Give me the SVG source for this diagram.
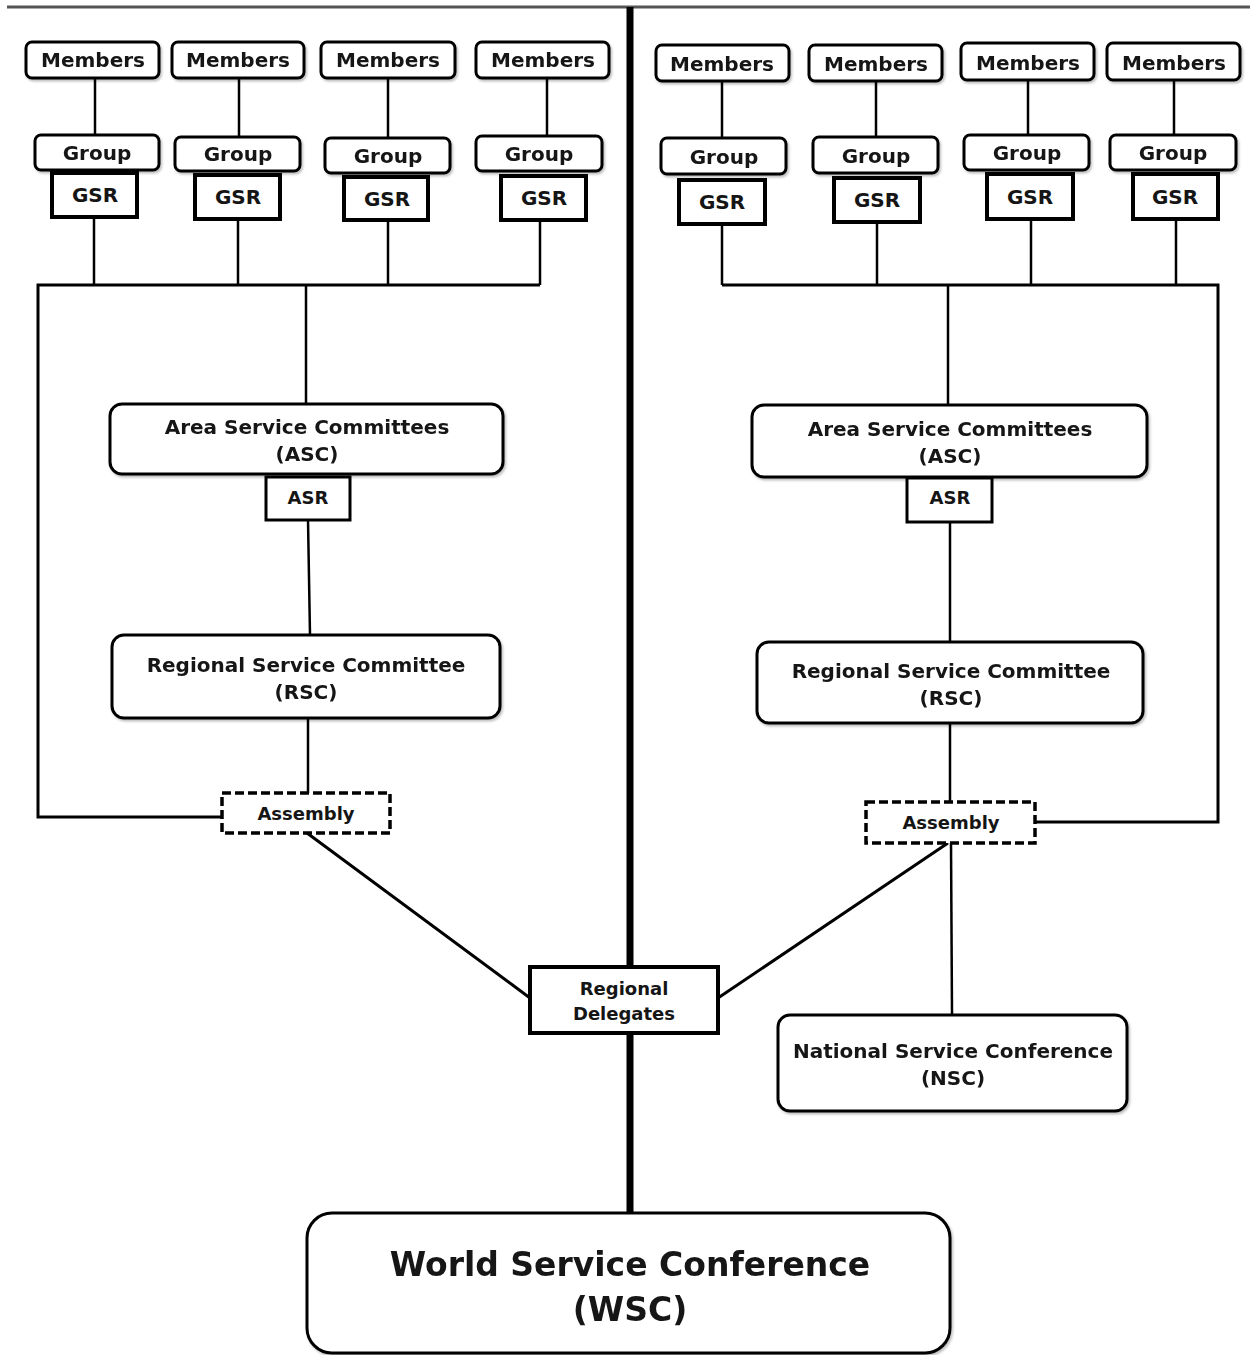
<svg xmlns="http://www.w3.org/2000/svg" width="1250" height="1355" viewBox="0 0 1250 1355">
<style>
.bx{fill:#fff;stroke:#000;stroke-width:3}
.gsr{fill:#fff;stroke:#000;stroke-width:4}
.dash{fill:#fff;stroke:#000;stroke-width:3.5;stroke-dasharray:9 4}
.t{font-family:"DejaVu Sans",Verdana,sans-serif;font-weight:bold;fill:#151515;text-anchor:middle}
.s20{font-size:20px}
.s18{font-size:18px}
.s33{font-size:33px}
.ln{stroke:#000;stroke-width:2.5;fill:none}
.ln3{stroke:#000;stroke-width:3;fill:none}
</style>
<defs>
<filter id="sh" x="-10%" y="-10%" width="120%" height="130%">
<feDropShadow dx="1.5" dy="2" stdDeviation="1.2" flood-color="#000" flood-opacity="0.25"/>
</filter>
</defs>
<rect width="1250" height="1355" fill="#fff"/>
<line x1="7" y1="7" x2="1250" y2="7" stroke="#555" stroke-width="3"/>
<g id="connectors">
<line class="ln" x1="95" y1="78" x2="95" y2="135"/>
<line class="ln" x1="239" y1="78" x2="239" y2="137"/>
<line class="ln" x1="388" y1="78" x2="388" y2="138"/>
<line class="ln" x1="547" y1="78" x2="547" y2="136"/>
<line class="ln" x1="94" y1="217" x2="94" y2="285"/>
<line class="ln" x1="238" y1="219" x2="238" y2="285"/>
<line class="ln" x1="388" y1="220" x2="388" y2="285"/>
<line class="ln" x1="540" y1="220" x2="540" y2="285"/>
<path class="ln3" d="M222,817 L38,817 L38,285 L540,285"/>
<line class="ln" x1="306" y1="285" x2="306" y2="404"/>
<line class="ln" x1="308" y1="520" x2="310" y2="635"/>
<line class="ln" x1="308" y1="718" x2="308" y2="793"/>
<line class="ln3" x1="307" y1="833" x2="530" y2="998"/>
<line class="ln" x1="722" y1="81" x2="722" y2="138"/>
<line class="ln" x1="876" y1="81" x2="876" y2="137"/>
<line class="ln" x1="1028" y1="80" x2="1028" y2="135"/>
<line class="ln" x1="1174" y1="80" x2="1174" y2="135"/>
<line class="ln" x1="722" y1="224" x2="722" y2="285"/>
<line class="ln" x1="877" y1="222" x2="877" y2="285"/>
<line class="ln" x1="1031" y1="219" x2="1031" y2="285"/>
<line class="ln" x1="1176" y1="219" x2="1176" y2="285"/>
<path class="ln3" d="M722,285 L1218,285 L1218,822 L1035,822" stroke-width="3.5"/>
<line class="ln" x1="948" y1="285" x2="948" y2="405"/>
<line class="ln" x1="950" y1="522" x2="950" y2="642"/>
<line class="ln" x1="950" y1="723" x2="950" y2="802"/>
<line class="ln" x1="951" y1="843" x2="952" y2="1015"/>
<line class="ln3" x1="948" y1="843" x2="718" y2="998"/>
<line x1="630" y1="7" x2="630" y2="1215" stroke="#000" stroke-width="7"/>
</g>
<g id="members1" filter="url(#sh)"><rect class="bx" x="26" y="42" width="133" height="36" rx="6"/><text class="t s20" x="93" y="67">Members</text></g>
<g id="members2" filter="url(#sh)"><rect class="bx" x="172" y="42" width="132" height="36" rx="6"/><text class="t s20" x="238" y="67">Members</text></g>
<g id="members3" filter="url(#sh)"><rect class="bx" x="321" y="42" width="134" height="36" rx="6"/><text class="t s20" x="388" y="67">Members</text></g>
<g id="members4" filter="url(#sh)"><rect class="bx" x="476" y="42" width="133" height="36" rx="6"/><text class="t s20" x="543" y="67">Members</text></g>
<g id="group1" filter="url(#sh)"><rect class="bx" x="35" y="135" width="124" height="35" rx="6"/><text class="t s20" x="97" y="160">Group</text></g>
<g id="group2" filter="url(#sh)"><rect class="bx" x="175" y="137" width="125" height="34" rx="6"/><text class="t s20" x="238" y="161">Group</text></g>
<g id="group3" filter="url(#sh)"><rect class="bx" x="325" y="138" width="125" height="35" rx="6"/><text class="t s20" x="388" y="163">Group</text></g>
<g id="group4" filter="url(#sh)"><rect class="bx" x="476" y="136" width="126" height="35" rx="6"/><text class="t s20" x="539" y="161">Group</text></g>
<g id="gsr1"><rect class="gsr" x="52" y="173" width="85" height="44"/><text class="t s20" x="95" y="202">GSR</text></g>
<g id="gsr2"><rect class="gsr" x="195" y="175" width="85" height="44"/><text class="t s20" x="238" y="204">GSR</text></g>
<g id="gsr3"><rect class="gsr" x="344" y="177" width="84" height="43"/><text class="t s20" x="387" y="206">GSR</text></g>
<g id="gsr4"><rect class="gsr" x="501" y="176" width="85" height="44"/><text class="t s20" x="544" y="205">GSR</text></g>
<g id="members5" filter="url(#sh)"><rect class="bx" x="656" y="45" width="133" height="36" rx="6"/><text class="t s20" x="722" y="71">Members</text></g>
<g id="members6" filter="url(#sh)"><rect class="bx" x="809" y="45" width="133" height="36" rx="6"/><text class="t s20" x="876" y="71">Members</text></g>
<g id="members7" filter="url(#sh)"><rect class="bx" x="961" y="43" width="133" height="37" rx="6"/><text class="t s20" x="1028" y="70">Members</text></g>
<g id="members8" filter="url(#sh)"><rect class="bx" x="1107" y="43" width="133" height="37" rx="6"/><text class="t s20" x="1174" y="70">Members</text></g>
<g id="group5" filter="url(#sh)"><rect class="bx" x="661" y="138" width="125" height="36" rx="6"/><text class="t s20" x="724" y="164">Group</text></g>
<g id="group6" filter="url(#sh)"><rect class="bx" x="813" y="137" width="125" height="36" rx="6"/><text class="t s20" x="876" y="163">Group</text></g>
<g id="group7" filter="url(#sh)"><rect class="bx" x="964" y="135" width="125" height="35" rx="6"/><text class="t s20" x="1027" y="160">Group</text></g>
<g id="group8" filter="url(#sh)"><rect class="bx" x="1110" y="135" width="126" height="35" rx="6"/><text class="t s20" x="1173" y="160">Group</text></g>
<g id="gsr5"><rect class="gsr" x="679" y="180" width="86" height="44"/><text class="t s20" x="722" y="209">GSR</text></g>
<g id="gsr6"><rect class="gsr" x="834" y="178" width="86" height="44"/><text class="t s20" x="877" y="207">GSR</text></g>
<g id="gsr7"><rect class="gsr" x="987" y="174" width="86" height="45"/><text class="t s20" x="1030" y="204">GSR</text></g>
<g id="gsr8"><rect class="gsr" x="1133" y="174" width="85" height="45"/><text class="t s20" x="1175" y="204">GSR</text></g>
<g id="asc-left" filter="url(#sh)"><rect class="bx" x="110" y="404" width="393" height="70" rx="12"/><text class="t s20" x="307" y="434">Area Service Committees</text><text class="t s20" x="307" y="461">(ASC)</text></g>
<g id="asr-left"><rect class="bx" x="266" y="477" width="84" height="43"/><text class="t s18" x="308" y="504">ASR</text></g>
<g id="rsc-left" filter="url(#sh)"><rect class="bx" x="112" y="635" width="388" height="83" rx="12"/><text class="t s20" x="306" y="672">Regional Service Committee</text><text class="t s20" x="306" y="699">(RSC)</text></g>
<g id="assembly-left"><rect class="dash" x="222" y="793" width="168" height="40"/><text class="t s18" x="306" y="820">Assembly</text></g>
<g id="asc-right" filter="url(#sh)"><rect class="bx" x="752" y="405" width="395" height="72" rx="12"/><text class="t s20" x="950" y="436">Area Service Committees</text><text class="t s20" x="950" y="463">(ASC)</text></g>
<g id="asr-right"><rect class="bx" x="907" y="478" width="85" height="44"/><text class="t s18" x="950" y="504">ASR</text></g>
<g id="rsc-right" filter="url(#sh)"><rect class="bx" x="757" y="642" width="386" height="81" rx="12"/><text class="t s20" x="951" y="678">Regional Service Committee</text><text class="t s20" x="951" y="705">(RSC)</text></g>
<g id="assembly-right"><rect class="dash" x="866" y="802" width="169" height="41"/><text class="t s18" x="951" y="829">Assembly</text></g>
<g id="regional-delegates"><rect class="gsr" x="530" y="967" width="188" height="66"/><text class="t s18" x="624" y="995">Regional</text><text class="t s18" x="624" y="1020">Delegates</text></g>
<g id="nsc" filter="url(#sh)"><rect class="bx" x="778" y="1015" width="349" height="96" rx="12"/><text class="t s20" x="953" y="1058">National Service Conference</text><text class="t s20" x="953" y="1085">(NSC)</text></g>
<g id="wsc" filter="url(#sh)"><rect class="bx" x="307" y="1213" width="643" height="140" rx="25"/><text class="t s33" x="630" y="1276">World Service Conference</text><text class="t s33" x="630" y="1321">(WSC)</text></g>
</svg>
